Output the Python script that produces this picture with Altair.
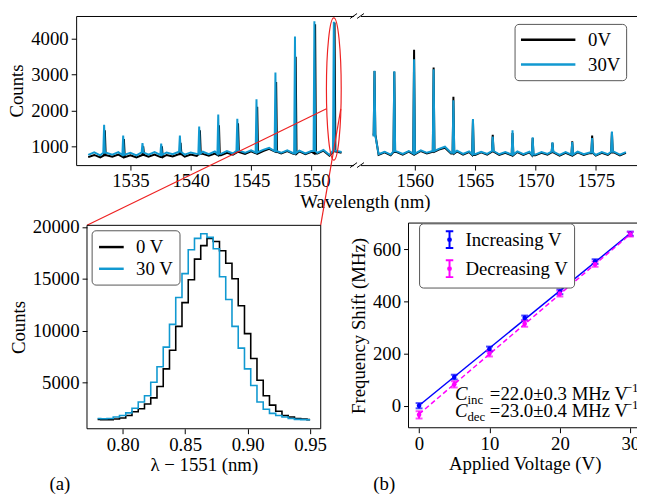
import altair as alt
import numpy as np
import pandas as pd

FONT = "Liberation Serif"
CYAN = "#1199d1"
RED = "#ee2222"
BLUE = "#0000ff"
MAGENTA = "#ff00ff"

# ---------------- top: broken-axis spectrum ----------------
left_peaks_30v = [1532.82, 1534.40, 1536.00, 1537.55, 1539.10, 1540.70, 1542.28,
                  1543.86, 1545.45, 1547.02, 1548.64, 1550.25, 1551.86]
left_peaks_0v = [1532.88, 1534.46, 1536.06, 1537.61, 1539.16, 1540.76, 1542.34,
                 1543.92, 1545.51, 1547.08, 1548.70, 1550.31, 1551.92]
left_top_30v = [1600, 1300, 1090, 1080, 1300, 1550, 1890, 1770, 2310, 3060, 4060, 4490, 4470]
left_top_0v = [1450, 1200, 1000, 1000, 1100, 1450, 1590, 1640, 2100, 2790, 3500, 4400, 4450]
left_grid_start = 1531.5
left_base_30v = [760, 830, 750, 820, 770, 840, 760, 820, 750, 830, 770, 840, 760, 830, 780,
                 850, 770, 830, 790, 850, 780, 860, 790, 870, 800, 880, 820, 890, 830, 900,
                 960, 870, 820, 890, 810, 880, 800, 870, 820, 900, 760, 880, 840]
left_base_0v = [700, 760, 690, 750, 710, 770, 700, 750, 690, 760, 710, 770, 700, 760, 720,
                780, 710, 770, 730, 790, 740, 800, 750, 820, 770, 840, 790, 860, 800, 870,
                930, 850, 800, 870, 790, 860, 780, 850, 800, 880, 740, 860, 820]

right_peaks = [1556.66, 1558.30, 1559.94, 1561.56, 1563.20, 1564.82, 1566.46,
               1568.10, 1569.77, 1571.41, 1573.05, 1574.70, 1576.34]
right_top_30v = [3110, 3090, 3430, 3150, 2285, 1760, 1275, 1450, 1250, 1110, 1120, 1230, 1410]
right_top_0v = [3100, 3080, 3690, 3200, 2380, 1740, 1320, 1370, 1230, 1100, 1140, 1300, 1400]
right_grid_start = 1556.5
right_base_30v = [1300, 780, 850, 770, 860, 790, 870, 800, 890, 820, 870, 930, 990, 820, 880,
                  790, 860, 780, 850, 790, 870, 780, 840, 770, 860, 780, 850, 770, 840, 790,
                  850, 760, 840, 770, 850, 780, 830, 760, 840, 780, 850, 770, 840]
right_base_0v = [1330, 760, 830, 750, 840, 770, 850, 780, 870, 800, 850, 910, 960, 800, 860,
                 770, 840, 760, 830, 770, 850, 760, 820, 750, 840, 760, 830, 750, 820, 770,
                 830, 740, 820, 750, 830, 760, 810, 740, 820, 760, 830, 750, 820]

# zoom-in marker (ellipse + connector lines), in top-left data units
zoom_center_wl = [1551.86]
zoom_center_counts = [2597]
zoom_seg = ["a", "a", "b", "b"]
zoom_wl = [1551.25, 1531.40, 1552.44, 1550.77]
zoom_counts = [2046, -1201, 2046, -1201]

# ---------------- (a) zoom on one mode ----------------
dl = [0.780, 0.785, 0.790, 0.795, 0.800, 0.805, 0.810, 0.815, 0.820, 0.825, 0.830, 0.835,
      0.840, 0.845, 0.850, 0.855, 0.860, 0.865, 0.870, 0.875, 0.880, 0.885, 0.890, 0.895,
      0.900, 0.905, 0.910, 0.915, 0.920, 0.925, 0.930, 0.935, 0.940, 0.945, 0.950]
a_0v = [1420, 1380, 1400, 1450, 1550, 1800, 2150, 2450, 2900, 3500, 4600, 6300, 8100, 10400,
        12700, 14900, 16900, 18200, 18900, 18600, 17700, 16500, 15000, 12400, 9700, 7300,
        5200, 3700, 2800, 2200, 1800, 1650, 1500, 1450, 1400]
a_30v = [1500, 1480, 1500, 1650, 1800, 2050, 2500, 3100, 3700, 5000, 6500, 8400, 10600, 13200,
         15500, 17800, 18900, 19350, 19000, 17900, 15200, 13000, 10400, 8300, 6300, 4700,
         3100, 2400, 2000, 1800, 1650, 1500, 1420, 1400, 1380]

# ---------------- (b) frequency shift vs voltage ----------------
volts = [0, 5, 10, 15, 20, 25, 30]
shift_inc = [0, 110, 218, 337, 437, 553, 660]
err_inc = [10, 9, 9, 9, 9, 9, 8]
shift_dec = [-35, 82, 200, 315, 430, 543, 658]
err_dec = [14, 12, 11, 12, 11, 10, 9]
fit_v = [0, 30]
fit_inc = [1, 661]
fit_dec = [-32, 658]
ann_x = 5.1
ann_y = [22, -43]


def trace(start, base, peaks, tops, half=0.07):
    grid = [start + 0.5 * i for i in range(len(base))]
    pts = [(g, b) for g, b in zip(grid, base) if min(abs(g - p) for p in peaks) > half + 0.03]
    for p, t in zip(peaks, tops):
        j = min(range(len(grid)), key=lambda k: abs(grid[k] - p))
        pts += [(p - half, base[j]), (p, t), (p + half, base[j])]
    pts.sort()
    return pts


def frame(pts, series):
    return pd.DataFrame({"wl": [p[0] for p in pts], "counts": [p[1] for p in pts], "series": series})


df_l0 = frame(trace(left_grid_start, left_base_0v, left_peaks_0v, left_top_0v), "0V")
df_l30 = frame(trace(left_grid_start, left_base_30v, left_peaks_30v, left_top_30v), "30V")
df_r0 = frame(trace(right_grid_start, right_base_0v, right_peaks, right_top_0v), "0V")
df_r30 = frame(trace(right_grid_start, right_base_30v, right_peaks, right_top_30v), "30V")
df_zoom = pd.DataFrame({"wl": zoom_wl, "counts": zoom_counts, "seg": zoom_seg})
df_ell = pd.DataFrame({"wl": zoom_center_wl, "counts": zoom_center_counts})
one = pd.DataFrame({"a": [0]})

# ---------------- layout: every panel is placed through its scale ranges ----------------
W, H = 568, 419
tl_xs = alt.Scale(domain=[1530.5, 1553.5], range=[0, 281], nice=False, zero=False)
tr_xs = alt.Scale(domain=[1555.5, 1578.5], range=[288, 569], nice=False, zero=False)
top_ys = alt.Scale(domain=[477, 4633], range=[151, 0], nice=False, zero=False)
a_xs = alt.Scale(domain=[0.7715, 0.9585], range=[11, 247.7], nice=False, zero=False)
a_ys = alt.Scale(domain=[516, 20162], range=[418, 212], nice=False, zero=False)
b_xs = alt.Scale(domain=[-1.5, 31.5], range=[336.6, 571.9], nice=False, zero=False)
b_ys = alt.Scale(domain=[-84.5, 700.8], range=[417, 209.7], nice=False, zero=False)
SPINE = dict(labels=False, ticks=False, title=None, domain=True)


def slash(xc, yc):
    return alt.Chart(one).mark_rule(color="black", strokeWidth=1).encode(
        x=alt.value(xc - 3.5), x2=alt.value(xc + 3.5), y=alt.value(yc + 2.5), y2=alt.value(yc - 2.5))


def top_color(legend=None):
    return alt.Color("series:N", scale=alt.Scale(domain=["0V", "30V"], range=["black", CYAN]),
                     legend=legend)


def px(field, scale, axis=None):
    return alt.X(field, scale=scale, axis=axis)


def py(field, scale, axis=None):
    return alt.Y(field, scale=scale, axis=axis)


layers = []

# ---- top-left panel
layers.append(alt.Chart(df_l0).mark_line(strokeWidth=2).encode(
    x=px("wl:Q", tl_xs, alt.Axis(orient="bottom", offset=151 - H, values=[1535, 1540, 1545, 1550],
                                 format="d", title="Wavelength (nm)", titleX=292.5)),
    y=py("counts:Q", top_ys, alt.Axis(orient="left", values=[1000, 2000, 3000, 4000], format="d",
                                      title="Counts", labelPadding=3, titlePadding=4)),
    color=top_color()))
layers.append(alt.Chart(df_l30).mark_line(strokeWidth=2).encode(
    x=px("wl:Q", tl_xs), y=py("counts:Q", top_ys), color=top_color()))
layers.append(alt.Chart(df_ell).mark_point(opacity=0).encode(
    x=px("wl:Q", tl_xs, alt.Axis(orient="top", **SPINE)), y=py("counts:Q", top_ys)))
layers.append(alt.Chart(df_zoom).mark_line(color=RED, strokeWidth=1.2).encode(
    x=px("wl:Q", tl_xs), y=py("counts:Q", top_ys), detail="seg:N"))
ELLIPSE = "M0.104,0A0.104,1,0,1,1,-0.104,0A0.104,1,0,1,1,0.104,0Z"
layers.append(alt.Chart(df_ell).mark_point(shape=ELLIPSE, size=20736, filled=False, color=RED,
                                           strokeWidth=1.2, opacity=1).encode(
    x=px("wl:Q", tl_xs), y=py("counts:Q", top_ys)))

# ---- top-right panel
leg_tr = alt.Legend(orient="none", legendX=444, legendY=8, title=None,
                    symbolType="M-1,0L4.8,0", symbolSize=361, symbolStrokeWidth=2.5,
                    labelFont=FONT, labelFontSize=19, labelOffset=47.5, labelLimit=300,
                    padding=5, rowPadding=4.2, strokeColor="#555555", cornerRadius=4,
                    fillColor="white")
layers.append(alt.Chart(df_r0).mark_line(strokeWidth=2).encode(
    x=px("wl:Q", tr_xs, alt.Axis(orient="bottom", offset=151 - H, values=[1560, 1565, 1570, 1575],
                                 format="d", title=None)),
    y=py("counts:Q", top_ys), color=top_color(leg_tr)))
layers.append(alt.Chart(df_r30).mark_line(strokeWidth=2).encode(
    x=px("wl:Q", tr_xs), y=py("counts:Q", top_ys), color=top_color()))
layers.append(alt.Chart(df_ell).mark_point(opacity=0).encode(
    x=px("wl:Q", tr_xs, alt.Axis(orient="top", **SPINE)),
    y=py("counts:Q", top_ys, alt.Axis(orient="right", offset=569 - W, **SPINE))))
layers += [slash(281, 0), slash(281, 151), slash(288, 0), slash(288, 151)]

# ---- (a) panel
df_a0 = pd.DataFrame({"dl": dl, "counts": a_0v, "series": "0 V"})
df_a30 = pd.DataFrame({"dl": dl, "counts": a_30v, "series": "30 V"})
leg_a = alt.Legend(orient="none", legendX=15.7, legendY=217, title=None,
                   symbolType="M-1,0L1.63,0", symbolSize=361, symbolStrokeWidth=2.5,
                   labelFont=FONT, labelFontSize=19, labelOffset=17, labelLimit=300,
                   padding=6, rowPadding=1, strokeColor="#555555", cornerRadius=4,
                   fillColor="white")
ca = alt.Scale(domain=["0 V", "30 V"], range=["black", CYAN])
layers.append(alt.Chart(pd.DataFrame({"x0": [0.7715], "x1": [0.9585], "y0": [516], "y1": [20162]})).mark_rect(
    fillOpacity=0, stroke="black", strokeWidth=1).encode(
    x=px("x0:Q", a_xs), x2="x1:Q", y=py("y0:Q", a_ys), y2="y1:Q"))
layers.append(alt.Chart(df_a0).mark_line(strokeWidth=1.6, interpolate="step").encode(
    x=px("dl:Q", a_xs, alt.Axis(orient="bottom", offset=418 - H, domain=False,
                                values=[0.80, 0.85, 0.90, 0.95], format=".2f",
                                title="λ − 1551 (nm)", titlePadding=1)),
    y=py("counts:Q", a_ys, alt.Axis(orient="left", offset=-11, domain=False,
                                    values=[5000, 10000, 15000, 20000], format="d",
                                    title="Counts", labelPadding=3, titlePadding=4)),
    color=alt.Color("series:N", scale=ca, legend=leg_a)))
layers.append(alt.Chart(df_a30).mark_line(strokeWidth=1.6, interpolate="step").encode(
    x=px("dl:Q", a_xs), y=py("counts:Q", a_ys),
    color=alt.Color("series:N", scale=ca, legend=None)))

# ---- (b) panel
df_b = pd.DataFrame({"V": volts * 2, "shift": shift_inc + shift_dec, "err": err_inc + err_dec,
                     "series": ["Increasing V"] * 7 + ["Decreasing V"] * 7})
df_b["lo"] = df_b["shift"] - df_b["err"]
df_b["hi"] = df_b["shift"] + df_b["err"]
df_fi = pd.DataFrame({"V": fit_v, "shift": fit_inc, "series": "Increasing V"})
df_fd = pd.DataFrame({"V": fit_v, "shift": fit_dec, "series": "Decreasing V"})
cb_s = alt.Scale(domain=["Increasing V", "Decreasing V"], range=[BLUE, MAGENTA])
EB = ("M1.51,-0.9L1.51,0.9M1.11,-0.9L1.91,-0.9M1.11,0.9L1.91,0.9"
      "M1.66,0A0.15,0.15,0,1,1,1.36,0A0.15,0.15,0,1,1,1.66,0Z")
leg_b = alt.Legend(orient="none", legendX=347.3, legendY=210, title=None,
                   symbolType=EB, symbolSize=361, symbolStrokeWidth=2,
                   labelFont=FONT, labelFontSize=19, labelOffset=20, labelLimit=300,
                   padding=6, rowPadding=2.4, strokeColor="#555555", cornerRadius=4,
                   fillColor="white")


def cb(legend=None):
    return alt.Color("series:N", scale=cb_s, legend=legend)


layers.append(alt.Chart(pd.DataFrame({"x0": [-1.5], "x1": [31.5], "y0": [-84.5], "y1": [700.8]})).mark_rect(
    fillOpacity=0, stroke="black", strokeWidth=1).encode(
    x=px("x0:Q", b_xs), x2="x1:Q", y=py("y0:Q", b_ys), y2="y1:Q"))
layers.append(alt.Chart(df_fi).mark_line(strokeWidth=1.5).encode(
    x=px("V:Q", b_xs, alt.Axis(orient="bottom", offset=417 - H, domain=False, values=[0, 10, 20, 30],
                               title="Applied Voltage (V)", titlePadding=1)),
    y=py("shift:Q", b_ys, alt.Axis(orient="left", offset=-336.6, domain=False,
                                   values=[0, 200, 400, 600], title="Frequency Shift (MHz)",
                                   labelPadding=3, titlePadding=4)),
    color=cb()))
layers.append(alt.Chart(df_fd).mark_line(strokeWidth=1.5, strokeDash=[5, 3]).encode(
    x=px("V:Q", b_xs), y=py("shift:Q", b_ys), color=cb()))
layers.append(alt.Chart(df_b).mark_rule(strokeWidth=2).encode(
    x=px("V:Q", b_xs), y=py("lo:Q", b_ys), y2="hi:Q", color=cb(leg_b)))
for f in ["lo", "hi"]:
    layers.append(alt.Chart(df_b).mark_tick(orient="horizontal", size=7, thickness=2).encode(
        x=px("V:Q", b_xs), y=py(f + ":Q", b_ys), color=cb()))
layers.append(alt.Chart(df_b).mark_point(filled=True, size=22, opacity=1).encode(
    x=px("V:Q", b_xs), y=py("shift:Q", b_ys), color=cb()))

df_ann = pd.DataFrame({"V": [ann_x, ann_x], "shift": ann_y, "sub": ["inc", "dec"],
                       "main": ["=22.0±0.3 MHz V", "=23.0±0.4 MHz V"]})


def ann(text, size, dx, dy=0, italic=False):
    props = dict(font=FONT, fontSize=size, align="left", baseline="alphabetic", dx=dx, dy=dy,
                 color="black")
    if italic:
        props["fontStyle"] = "italic"
    return alt.Chart(df_ann).mark_text(**props).encode(
        x=px("V:Q", b_xs), y=py("shift:Q", b_ys), text=text)


layers.append(ann(alt.value("C"), 19, 0, italic=True))
layers.append(ann(alt.Text("sub:N"), 13, 12.6, dy=4))
layers.append(ann(alt.Text("main:N"), 19, 35.3))
layers.append(ann(alt.value("\u22121"), 13, 172, dy=-8))

# ---- panel letters
for txt, x in [("(a)", -27), ("(b)", 301)]:
    layers.append(alt.Chart(one).mark_text(font=FONT, fontSize=19, align="left",
                                           baseline="alphabetic", color="black").encode(
        x=alt.value(x), y=alt.value(480), text=alt.value(txt)))

chart = alt.layer(*layers).resolve_scale(
    x="independent", y="independent", color="independent").resolve_axis(
    x="independent", y="independent").resolve_legend(color="independent").properties(
    width=W, height=H,
    autosize=alt.AutoSizeParams(type="none"),
    padding={"left": 69, "top": 5, "right": 0, "bottom": 64},
    view=alt.ViewBackground(stroke="transparent"),
).configure(font=FONT).configure_axis(
    labelFont=FONT, titleFont=FONT, labelFontSize=19, titleFontSize=19, titleFontWeight="normal",
    labelColor="black", titleColor="black", domainColor="black", tickColor="black",
    tickSize=5, grid=False, labelPadding=2, titlePadding=2, labelFlush=False, labelOverlap=False
).configure_legend(labelColor="black")

chart.save("out.html", embed_options={"renderer": "svg", "actions": False})
